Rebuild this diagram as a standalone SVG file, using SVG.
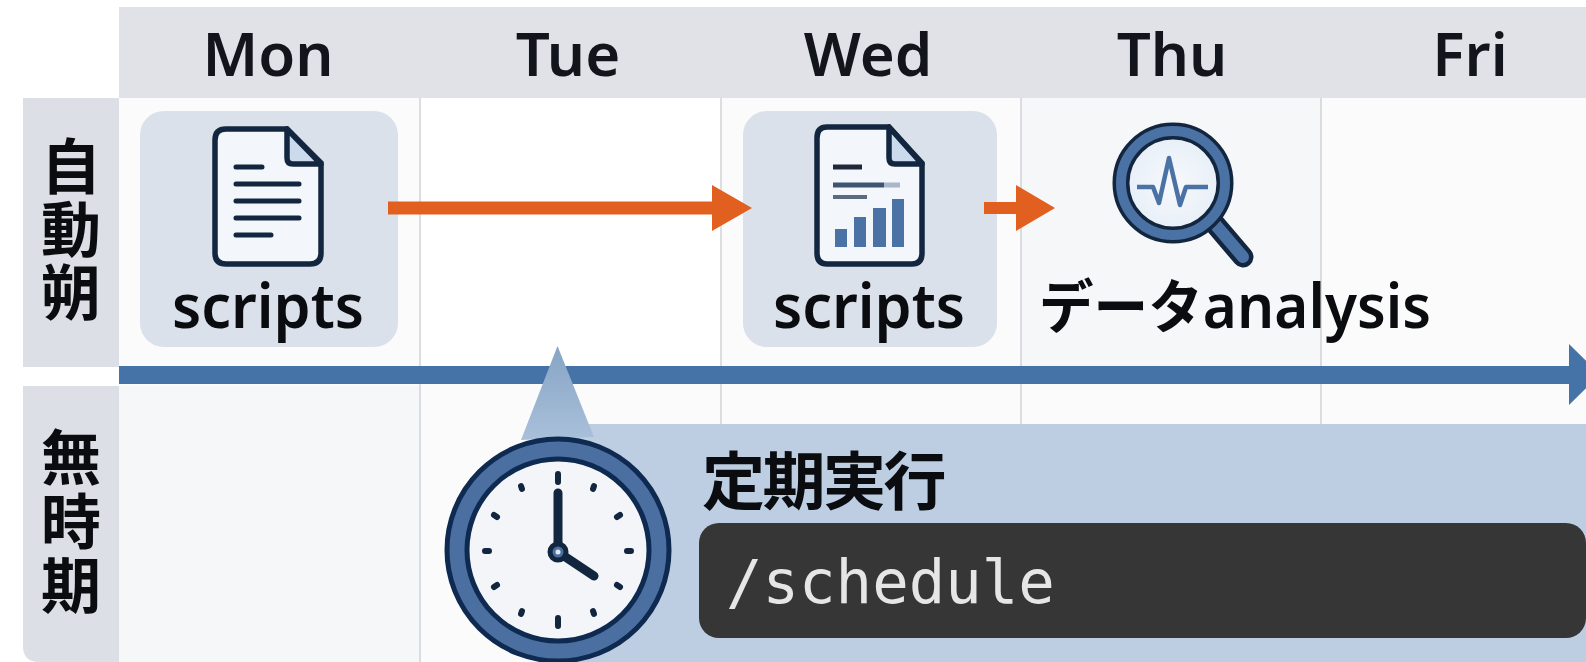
<svg xmlns="http://www.w3.org/2000/svg" width="1586" height="662" viewBox="0 0 1586 662">
<style>
.h{font:600 60px "Noto Sans","Liberation Sans",sans-serif;fill:#12161c;text-anchor:middle}
.b{font:600 62px "Noto Sans","Noto Sans CJK JP",sans-serif;fill:#0a0c10}
.v{font:700 60px "Noto Sans CJK JP","Noto Sans",sans-serif;fill:#0a0c10;writing-mode:vertical-rl}
.t{font:700 63px "Noto Sans CJK JP","Noto Sans",sans-serif;fill:#0a0c10;letter-spacing:-2.500px}
.m{font:400 60.700px "DejaVu Sans Mono","Liberation Mono",monospace;fill:#e6e6e6}
.g{stroke:#d2d4d8;stroke-width:1.500;fill:none}
.o{stroke:#13263f;fill:none;stroke-linecap:round;stroke-linejoin:round}
.bl{fill:#4a72a4}
</style>
<defs>
<linearGradient id="tri" x1="0" y1="0" x2="0" y2="1"><stop offset="0" stop-color="#86a4c4"/><stop offset="1" stop-color="#a9c0da"/></linearGradient>
<radialGradient id="lens"><stop offset="0" stop-color="#f7f9fc"/><stop offset="1" stop-color="#e6eef7"/></radialGradient>
</defs>
<rect width="1586" height="662" fill="#fff"/>
<g id="grid">
<rect x="119" y="98" width="1467" height="564" fill="#fbfbfc"/>
<rect x="421" y="98" width="300" height="268" fill="#fff"/>
<rect x="119" y="386" width="301" height="276" fill="#f6f7f9"/>
<rect x="1021" y="98" width="300" height="268" fill="#f6f7f8"/>
<rect x="119" y="7" width="1467" height="91" fill="#e0e2e7"/>
<path class="g" d="M420 98V662M721 98V424M1021 98V424M1321 98V424"/>
</g>
<g id="header">
<text class="h" x="268" y="76">Mon</text>
<text class="h" x="568" y="76">Tue</text>
<text class="h" x="868" y="76">Wed</text>
<text class="h" x="1172" y="76">Thu</text>
<text class="h" x="1470" y="76">Fri</text>
</g>
<g id="row-auto">
<rect x="23" y="98" width="96" height="269" fill="#dcdfe5"/>
<text class="v" x="71" y="136" letter-spacing="3">自動朔</text>
</g>
<g id="row-none">
<path d="M23 386H119V662H39Q23 662 23 646Z" fill="#dcdfe5"/>
<text class="v" x="71" y="427" letter-spacing="4">無時期</text>
</g>
<g id="card-mon">
<rect x="140" y="111" width="258" height="236" rx="24" fill="#dae1ea"/>
<path d="M215 140Q215 129 226 129H287L321 163V253Q321 264 310 264H226Q215 264 215 253Z" fill="#f3f6fa" stroke="#13263f" stroke-width="5.500"/>
<path d="M287 129V158Q287 164 293 164H321Z" fill="#cbdaec" stroke="#13263f" stroke-width="5.500" stroke-linejoin="round"/>
<path class="o" stroke-width="5" d="M236 167H262M236 184H299M236 201H299M236 218H299M236 235H271"/>
<text class="b" x="172" y="328" textLength="192" lengthAdjust="spacingAndGlyphs">scripts</text>
</g>
<g id="card-wed">
<rect x="743" y="111" width="254" height="236" rx="24" fill="#dae1ea"/>
<path d="M817 138Q817 127 827 127H889L922 163V253Q922 264 912 264H827Q817 264 817 253Z" fill="#f3f6fa" stroke="#13263f" stroke-width="5.500"/>
<path d="M889 127V158Q889 164 895 164H922Z" fill="#cbdaec" stroke="#13263f" stroke-width="5.500" stroke-linejoin="round"/>
<path d="M833 167H862" stroke="#1e2a3c" stroke-width="5"/>
<path d="M833 185H884" stroke="#3e5470" stroke-width="5"/>
<path d="M884 185H900" stroke="#a9b8c9" stroke-width="5"/>
<path d="M833 197H867" stroke="#5a6a80" stroke-width="4"/>
<rect class="bl" x="835" y="229" width="12" height="18"/>
<rect class="bl" x="854" y="217" width="12" height="30"/>
<rect class="bl" x="873" y="208" width="13" height="39"/>
<rect class="bl" x="892" y="199" width="12" height="48"/>
<text class="b" x="773" y="328" textLength="192" lengthAdjust="spacingAndGlyphs">scripts</text>
</g>
<g id="connectors">
<rect x="119" y="366" width="1452" height="18" fill="#4573a8"/>
<path d="M1569 344L1600 374.500L1569 405Z" fill="#4573a8"/>
<path d="M388 201.500H712V185L752 208L712 231V214.500H388Z" fill="#e2601f"/>
<path d="M984 202H1016V185L1055 208L1016 231V214H984Z" fill="#e2601f"/>
</g>
<g id="callout">
<path d="M589 424H1586V662H558V440Z" fill="#bdcee2"/>
<path d="M521 440L557.500 346L594 437Z" fill="url(#tri)"/>
<text class="t" x="702" y="504">定期実行</text>
<rect x="699" y="523" width="887" height="115" rx="20" fill="#353635"/>
<text class="m" x="726" y="603">/schedule</text>
</g>
<g id="clock">
<circle cx="558" cy="550" r="111" fill="#4a6fa0" stroke="#0e2a50" stroke-width="5"/>
<circle cx="558" cy="550" r="91" fill="#f4f5f8" stroke="#0e2a50" stroke-width="5"/>
<path stroke="#13263f" stroke-width="6" stroke-linecap="round" fill="none" d="M558 474V482M558 618V626M485 551H489M627 551H631M521 486l1 3M594 486l-1 3M521 614l1-3M594 614l-1-3M494 515l3 2M620 515l-3 2M494 587l3-2M620 587l-3-2"/>
<path d="M558 493V552L594 576" fill="none" stroke="#13263f" stroke-width="9" stroke-linecap="round" stroke-linejoin="round"/>
<circle cx="558" cy="552" r="8" fill="#4a6fa0" stroke="#13263f" stroke-width="5"/>
<circle cx="558" cy="552" r="2.500" fill="#dfe8f2"/>
</g>
<g id="analysis">
<path d="M1214 223L1243 257" stroke="#13263f" stroke-width="21" stroke-linecap="round"/>
<path d="M1214 223L1243 257" stroke="#4a72a4" stroke-width="12" stroke-linecap="round"/>
<circle cx="1173" cy="183" r="52" fill="url(#lens)" stroke="#13263f" stroke-width="17"/>
<circle cx="1173" cy="183" r="52" fill="none" stroke="#4a72a4" stroke-width="10"/>
<path d="M1137 187H1153L1159 203L1169 158L1180 205L1186 187H1208" fill="none" stroke="#4a72a4" stroke-width="4.500" stroke-linejoin="round"/>
<text class="b" x="1039" y="328" textLength="392" lengthAdjust="spacingAndGlyphs"><tspan font-size="58">データ</tspan>analysis</text>
</g>
</svg>
